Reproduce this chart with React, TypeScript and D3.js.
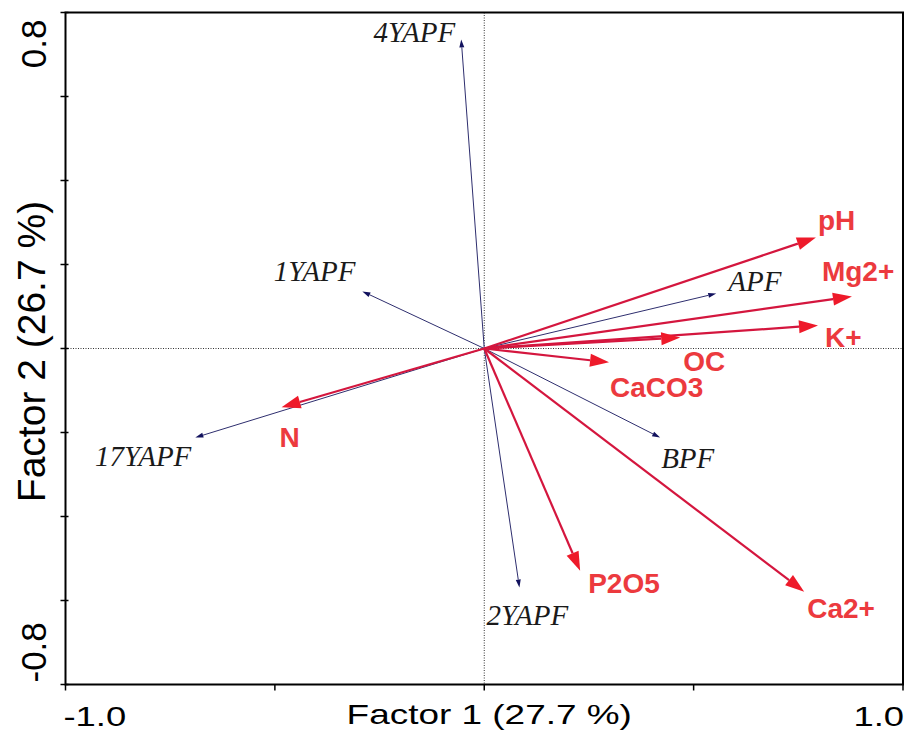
import * as d3 from "d3";

// sample scores (blue, italic labels)
const siteNames = ["4YAPF", "1YAPF", "17YAPF", "APF", "BPF", "2YAPF"];
const siteX = [-0.055, -0.291, -0.69, 0.554, 0.42, 0.084];
const siteY = [0.736, 0.136, -0.212, 0.131, -0.212, -0.569];

// soil variables (red, bold labels)
const varNames = ["pH", "Mg2+", "K+", "OC", "CaCO3", "N", "P2O5", "Ca2+"];
const varX = [0.792, 0.878, 0.797, 0.468, 0.298, -0.484, 0.229, 0.764];
const varY = [0.264, 0.124, 0.055, 0.026, -0.033, -0.14, -0.529, -0.579];

const xTicks = [-1, -0.5, 0, 0.5, 1];
const yTicks = [-0.8, -0.6, -0.4, -0.2, 0, 0.2, 0.4, 0.6, 0.8];

// label placement relative to arrow tip (px)
const labelPos: Record<string, { dx: number; dy: number; anchor: string }> = {
  "4YAPF": { dx: -6, dy: 3, anchor: "end" },
  "1YAPF": { dx: -7, dy: -10, anchor: "end" },
  "17YAPF": { dx: -4, dy: 28, anchor: "end" },
  APF: { dx: 12, dy: -2, anchor: "start" },
  BPF: { dx: 1, dy: 30, anchor: "start" },
  "2YAPF": { dx: -33, dy: 38, anchor: "start" },
  pH: { dx: 2, dy: -8, anchor: "start" },
  "Mg2+": { dx: -30, dy: -15, anchor: "start" },
  "K+": { dx: 7, dy: 22, anchor: "start" },
  OC: { dx: 3, dy: 33, anchor: "start" },
  CaCO3: { dx: 1, dy: 35, anchor: "start" },
  N: { dx: -2, dy: 40, anchor: "start" },
  P2O5: { dx: 8, dy: 22, anchor: "start" },
  "Ca2+": { dx: 3, dy: 26, anchor: "start" },
};

const W = 906;
const H = 735;
const left = 65.5;
const right = 903;
const top = 12.5;
const bottom = 684.5;

const x = d3.scaleLinear().domain([-1, 1]).range([left, right]);
const y = d3.scaleLinear().domain([-0.8, 0.8]).range([bottom, top]);

const sans = "Liberation Sans, Arial, sans-serif";
const serif = "Liberation Serif, Times New Roman, serif";

// plain hyphen instead of d3's unicode minus
const fmt = (v: number) => d3.format(".1f")(v).replace("\u2212", "-");

type ArrowProps = {
  vx: number;
  vy: number;
  color: string;
  headColor: string;
  width: number;
  headLen: number;
  headW: number;
};

const Arrow = ({ vx, vy, color, headColor, width, headLen, headW }: ArrowProps) => {
  const x0 = x(0);
  const y0 = y(0);
  const x1 = x(vx);
  const y1 = y(vy);
  const a = Math.atan2(y1 - y0, x1 - x0);
  const bx = x1 - headLen * Math.cos(a);
  const by = y1 - headLen * Math.sin(a);
  const px = -Math.sin(a) * headW / 2;
  const py = Math.cos(a) * headW / 2;
  const head = `M${x1},${y1}L${bx + px},${by + py}L${bx - px},${by - py}Z`;
  return (
    <g>
      <line x1={x0} y1={y0} x2={bx} y2={by} stroke={color} strokeWidth={width} />
      <path d={head} fill={headColor} />
    </g>
  );
};

const App = () => {
  return (
    <svg width={W} height={H} style={{ position: "absolute", left: 0, top: 0 }}>
      <rect width={W} height={H} fill="#fff" />
      {/* zero lines */}
      <line x1={left} x2={right} y1={y(0)} y2={y(0)} stroke="#333" strokeWidth={1} strokeDasharray="1,1.5" />
      <line x1={x(0)} x2={x(0)} y1={top} y2={bottom} stroke="#333" strokeWidth={1} strokeDasharray="1,1.5" />

      {/* frame */}
      <rect x={left} y={top} width={right - left} height={bottom - top} fill="none" stroke="#000" strokeWidth={2} />
      {yTicks.map((t) => (
        <line key={t} x1={left - 5} x2={left + 3} y1={y(t)} y2={y(t)} stroke="#000" strokeWidth={1.5} />
      ))}
      {xTicks.map((t) => (
        <line key={t} x1={x(t)} x2={x(t)} y1={bottom} y2={bottom + 6} stroke="#000" strokeWidth={1.5} />
      ))}

      {/* tick labels */}
      <g fontFamily={sans} fill="#000">
        <text transform={`translate(${x(-1) - 2},726) scale(1.3,1)`} fontSize={28}>
          {fmt(xTicks[0])}
        </text>
        <text transform={`translate(${x(1) + 1},726) scale(1.3,1)`} fontSize={28} textAnchor="end">
          {fmt(xTicks[xTicks.length - 1])}
        </text>
        <text transform={`translate(46,${y(0.8) + 7}) rotate(-90)`} fontSize={35} textAnchor="end">
          {fmt(yTicks[yTicks.length - 1])}
        </text>
        <text transform={`translate(46,${y(-0.8) - 2}) rotate(-90)`} fontSize={35} textAnchor="start">
          {fmt(yTicks[0])}
        </text>
        <text transform={`translate(${x(0) + 5},724) scale(1.32,1)`} fontSize={28} textAnchor="middle">
          Factor 1 (27.7 %)
        </text>
        <text transform={`translate(45,${y(0) + 3}) rotate(-90)`} fontSize={39} textAnchor="middle">
          Factor 2 (26.7 %)
        </text>
      </g>

      {/* site arrows */}
      {siteNames.map((n, i) => (
        <Arrow key={n} vx={siteX[i]} vy={siteY[i]} color="#2e2e6e" headColor="#12125e" width={1} headLen={8} headW={5} />
      ))}
      {/* variable arrows */}
      {varNames.map((n, i) => (
        <Arrow key={n} vx={varX[i]} vy={varY[i]} color="#d4163e" headColor="#ee1a2a" width={2.2} headLen={19} headW={13} />
      ))}

      {siteNames.map((n, i) => (
        <text
          key={n}
          x={x(siteX[i]) + labelPos[n].dx}
          y={y(siteY[i]) + labelPos[n].dy}
          textAnchor={labelPos[n].anchor}
          fontFamily={serif}
          fontStyle="italic"
          fontSize={29}
          fill="#1a1a1a"
        >
          {n}
        </text>
      ))}
      {varNames.map((n, i) => (
        <text
          key={n}
          x={x(varX[i]) + labelPos[n].dx}
          y={y(varY[i]) + labelPos[n].dy}
          textAnchor={labelPos[n].anchor}
          fontFamily={sans}
          fontWeight="bold"
          fontSize={28}
          fill="#ec3a3e"
        >
          {n}
        </text>
      ))}
    </svg>
  );
};

export default App;
